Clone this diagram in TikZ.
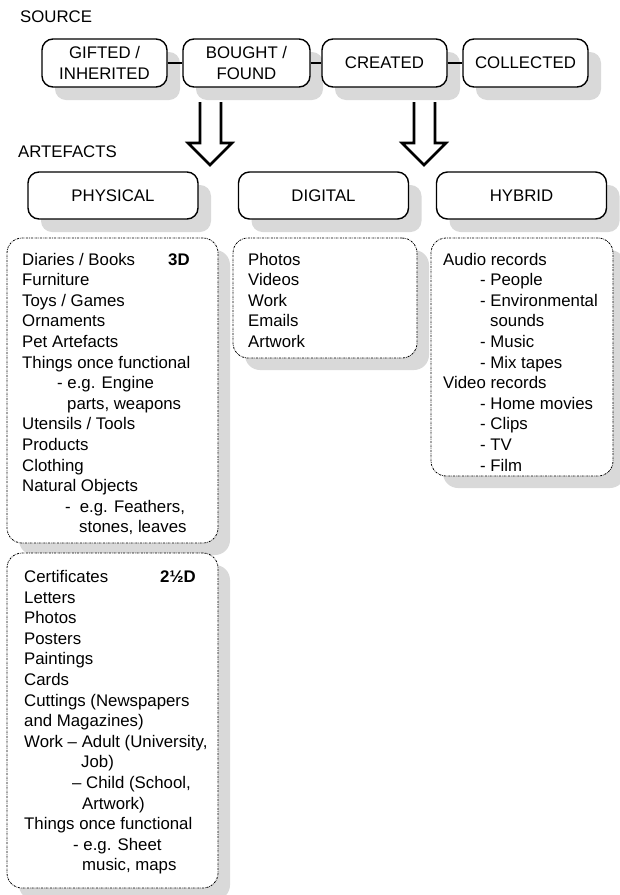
\documentclass[tikz,border=0pt]{standalone}
\usepackage{fontspec}
\setmainfont{Liberation Sans}
\usepackage{tikz}
\usetikzlibrary{shapes,arrows,positioning,calc,shadows}

\begin{document}
\begin{tikzpicture}[x=1pt,y=-1pt,
    font=\fontsize{16.8}{20.6}\selectfont,
    box/.style={draw, line width=1.4pt, rounded corners=11pt, fill=white, align=center,
        minimum height=48pt, inner sep=0pt,
        drop shadow={shadow xshift=13pt, shadow yshift=-13pt, fill=black!15, opacity=1}},
    listbox/.style={draw, line width=0.8pt, dash pattern=on 2pt off 1pt on 0.6pt off 1pt,
        rounded corners=15pt, fill=white, inner sep=0pt,
        drop shadow={shadow xshift=12pt, shadow yshift=-12pt, fill=black!15, opacity=1}},
    listtext/.style={anchor=base west, align=left, inner sep=0pt},
    bigarrow/.style={line width=2.6pt, line join=miter}]
    \useasboundingbox (0,0) rectangle (620,895);

    % Source
    \node (source) [listtext] at (20,22) {SOURCE};
    \node (gifted) [box, minimum width=125pt] at (104.5,63) {GIFTED /\\INHERITED};
    \node (bought) [box, minimum width=127pt] at (246.5,63) {BOUGHT /\\FOUND};
    \node (created) [box, minimum width=125pt] at (384.5,63) {CREATED};
    \node (collected) [box, minimum width=125pt] at (525.5,63) {COLLECTED};
    \draw[line width=1.2pt] (gifted) -- (bought);
    \draw[line width=1.2pt] (bought) -- (created);
    \draw[line width=1.2pt] (created) -- (collected);

    % Arrows
    \draw[bigarrow] (200,102) -- (200,143) -- (188,143) -- (210,165) -- (232,143) -- (221,143) -- (221,102);
    \draw[bigarrow] (414,102) -- (414,143) -- (402,143) -- (424,165) -- (446,143) -- (435,143) -- (435,102);

    % Artefacts
    \node (artefacts) [listtext] at (18,157) {ARTEFACTS};
    \node (physical) [box, minimum width=170pt, minimum height=47pt] at (113,195.5) {PHYSICAL};
    \node (digital) [box, minimum width=170pt, minimum height=47pt] at (323.5,195.5) {DIGITAL};
    \node (hybrid) [box, minimum width=170pt, minimum height=47pt] at (521.5,195.5) {HYBRID};

    % Lists (base = last line)
    \node (threed) [listbox, minimum width=211pt, minimum height=305pt] at (112.5,390.5) {};
    \node (twohalf) [listbox, minimum width=211pt, minimum height=335pt] at (112.5,720.5) {};
    \node (digitalbox) [listbox, minimum width=184pt, minimum height=120pt] at (325,298) {};
    \node (hybridbox) [listbox, minimum width=182pt, minimum height=238pt] at (522,357) {};

    \node (threedlist) [listtext] at (22,532.8) {Diaries / Books\\Furniture\\Toys / Games\\Ornaments\\
        Pet Artefacts\\Things once functional\\\hspace*{35pt}- e.g. Engine\\\hspace*{45pt}parts, weapons\\
        Utensils / Tools\\Products\\Clothing\\Natural Objects\\
        \hspace*{43pt}-\hspace*{9pt}e.g. Feathers,\\\hspace*{57pt}stones, leaves};
    \node (threedtag) [listtext, font=\fontsize{16.8}{20.6}\selectfont\bfseries] at (168,265) {3D};

    \node (twohalflist) [listtext] at (24,870.9) {Certificates\\Letters\\Photos\\Posters\\Paintings\\Cards\\
        Cuttings (Newspapers\\and Magazines)\\Work – Adult (University,\\\hspace*{57pt}Job)\\
        \hspace*{48pt}– Child (School,\\\hspace*{58pt}Artwork)\\Things once functional\\
        \hspace*{49pt}- e.g. Sheet\\\hspace*{58pt}music, maps};
    \node (twohalftag) [listtext, font=\fontsize{16.8}{20.6}\selectfont\bfseries] at (160,582.5) {2½D};

    \node (digitallist) [listtext] at (248,347.4) {Photos\\Videos\\Work\\Emails\\Artwork};

    \node (hybridlist) [listtext] at (443,471) {Audio records\\\hspace*{37pt}- People\\
        \hspace*{37pt}- Environmental\\\hspace*{47pt}sounds\\\hspace*{37pt}- Music\\\hspace*{37pt}- Mix tapes\\
        Video records\\\hspace*{37pt}- Home movies\\\hspace*{37pt}- Clips\\\hspace*{37pt}- TV\\\hspace*{37pt}- Film};
\end{tikzpicture}
\end{document}
